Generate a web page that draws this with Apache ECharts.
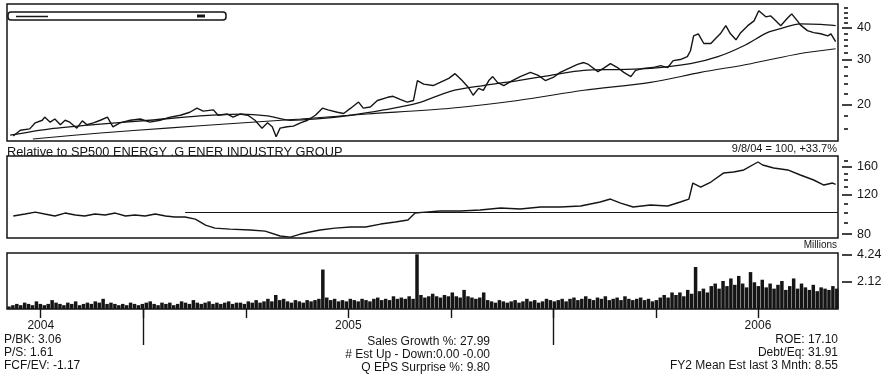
<!DOCTYPE html>
<html>
<head>
<meta charset="utf-8">
<script src="https://cdn.jsdelivr.net/npm/echarts@6/dist/echarts.min.js"></script>
<style>
  html, body { margin: 0; padding: 0; background: #fff; }
  #chart { width: 889px; height: 384px; }
</style>
</head>
<body>
<div id="chart"></div>
<script>
// Horizontal unit: weeks counted from the first week shown (early March 2004).
const weekMax = 105.9;
const quarterTicks = [4.3, 17.4, 30.5, 43.5, 56.6, 69.6, 82.7, 95.7];
const longTicks = [17.4, 69.6];
const yearTicks = [4.3, 43.5, 95.7];
const yearLabels = ['2004', '2005', '2006'];

// Daily price path, sampled [week, price]
const price = [
  [0.8,15.0],[1.7,15.8],[2.9,16.0],[3.6,16.9],[4.5,17.3],[4.8,17.8],[5.5,17.0],[6.1,17.5],
  [6.8,16.6],[7.4,17.3],[8.0,17.0],[8.9,16.1],[9.6,17.2],[10.2,16.6],[11.0,16.9],[11.9,17.3],
  [12.8,17.8],[13.5,16.3],[14.4,16.9],[15.7,17.3],[17.0,17.5],[18.2,17.0],[19.5,17.3],[20.8,17.8],
  [22.1,18.1],[23.3,18.6],[24.2,19.3],[25.0,18.8],[26.3,19.0],[26.9,18.1],[28.1,18.3],[28.8,17.8],
  [29.7,18.3],[30.7,18.1],[31.6,17.3],[32.5,16.1],[33.2,16.9],[33.8,16.3],[34.3,14.9],[34.8,16.1],
  [35.7,16.3],[36.5,16.4],[37.4,16.9],[38.3,17.3],[39.3,18.1],[40.2,19.3],[40.9,19.0],[42.1,18.6],
  [42.9,18.4],[43.8,19.3],[44.8,20.4],[45.4,19.3],[46.3,19.5],[47.2,20.7],[48.5,21.3],[49.2,21.5],
  [50.1,20.9],[51.0,20.4],[51.8,20.7],[52.3,24.8],[53.1,24.0],[54.3,23.7],[55.2,24.4],[56.3,25.3],
  [57.1,26.4],[58.0,24.8],[58.8,23.3],[59.4,21.7],[60.1,23.1],[60.7,22.7],[61.4,24.8],[61.9,25.7],
  [62.5,24.4],[63.3,23.7],[64.4,24.8],[65.4,25.7],[66.7,26.7],[67.7,26.0],[68.6,24.8],[69.6,25.5],
  [70.5,26.7],[71.6,27.7],[72.7,28.7],[73.5,29.2],[74.1,28.7],[75.3,26.9],[76.0,27.7],[76.9,28.9],
  [77.8,27.9],[78.6,26.7],[79.5,25.7],[80.1,27.2],[81.1,27.7],[82.3,27.9],[83.3,28.4],[84.2,27.9],
  [84.9,29.7],[85.8,30.0],[86.7,30.8],[87.1,32.5],[87.5,37.2],[88.1,37.9],[88.8,34.7],[89.7,34.7],
  [90.3,36.3],[90.9,37.9],[91.6,40.8],[92.2,37.9],[92.9,35.9],[93.5,38.3],[94.4,40.8],[95.2,42.6],
  [95.8,46.7],[96.7,44.2],[97.3,44.6],[98.0,42.6],[98.6,40.8],[99.5,43.8],[100.0,45.4],[100.8,42.3],
  [101.1,41.1],[102.0,39.0],[102.8,38.3],[103.7,37.9],[104.6,37.2],[105.0,37.9],[105.6,35.3]
];

// Shorter moving average
const maShort = [
  [0.4,15.1],[5.5,16.0],[11.9,16.7],[18.2,17.3],[24.6,18.0],[29.7,18.3],[33.2,18.0],[36.1,17.3],
  [39.5,17.5],[43.8,18.1],[48.0,19.0],[52.3,20.2],[56.5,22.5],[60.7,23.7],[65.1,24.8],[69.3,26.0],
  [73.5,27.2],[77.8,27.4],[82.0,27.7],[87.1,28.9],[90.6,30.8],[93.9,34.0],[96.9,38.3],[98.6,39.7],
  [101.1,41.5],[103.7,41.3],[105.6,40.8]
];

// Longer moving average
const maLong = [
  [3.3,14.6],[11.9,15.4],[20.4,16.1],[28.8,16.8],[37.4,17.5],[45.9,18.3],[56.5,19.3],[65.1,20.7],
  [73.5,22.7],[82.0,24.4],[88.4,26.7],[94.8,28.9],[101.1,31.7],[105.6,33.1]
];

// Relative strength vs. the energy industry group (9/8/04 = 100)
const relStrength = [
  [0.8,96.4],[2.3,98.4],[3.6,100.4],[4.8,98.4],[6.1,96.4],[7.4,99.4],[8.7,97.4],[9.9,96.4],
  [11.2,98.4],[12.5,97.4],[13.8,99.4],[15.1,96.4],[16.3,97.4],[17.6,96.4],[18.9,98.4],[20.2,96.4],
  [21.4,95.4],[22.7,95.4],[24.0,93.4],[25.3,87.8],[26.5,85.1],[28.4,84.2],[31.0,83.4],[32.9,82.5],
  [34.8,78.4],[36.1,77.5],[37.4,80.0],[38.6,81.7],[39.9,83.4],[41.8,85.1],[43.8,86.0],[45.7,86.0],
  [47.6,88.7],[49.5,90.6],[51.1,92.5],[52.0,99.4],[53.3,100.4],[55.2,101.5],[57.8,101.5],[60.3,102.6],
  [62.9,104.7],[65.4,103.6],[68.0,105.8],[70.5,105.8],[73.1,106.9],[75.6,111.4],[76.9,114.9],[78.2,110.2],
  [79.8,105.8],[82.0,108.0],[84.2,106.9],[85.8,111.4],[86.9,114.9],[87.4,135.6],[88.4,130.1],[89.7,137.0],
  [91.3,150.3],[92.6,151.9],[93.9,155.2],[95.7,168.5],[96.3,163.4],[97.7,158.4],[99.5,155.2],[101.1,147.3],
  [102.8,139.9],[104.1,132.8],[105.2,135.6],[105.6,133.7]
];
const rsBase = 100;
const rsBaseStart = 22.7;

// Volume in millions, one bar per half week
const volume = [
  0.2,0.3,0.4,0.3,0.5,0.4,0.3,0.6,0.4,0.3,
  0.4,0.7,0.5,0.4,0.3,0.5,0.4,0.6,0.3,0.4,
  0.5,0.4,0.6,0.5,0.8,0.4,0.5,0.4,0.3,0.4,
  0.3,0.5,0.4,0.3,0.4,0.5,0.6,0.4,0.3,0.5,
  0.4,0.5,0.3,0.4,0.6,0.5,0.4,0.7,0.5,0.4,
  0.5,0.6,0.4,0.5,0.4,0.5,0.6,0.4,0.5,0.5,
  0.4,0.6,0.5,0.7,0.5,0.6,0.8,0.6,1.1,0.7,
  0.8,0.6,0.5,0.7,0.6,0.5,0.7,0.6,0.7,0.8,
  3.1,0.9,0.7,0.8,0.6,0.7,0.6,0.8,0.7,0.6,
  0.8,0.7,0.6,0.8,0.9,0.7,0.8,0.7,1.0,0.8,
  0.9,0.8,1.0,0.8,4.3,1.1,0.9,1.0,1.2,1.0,
  0.9,1.1,1.0,1.3,1.0,0.9,1.5,1.0,0.9,0.8,
  0.9,1.3,0.7,0.6,0.5,0.7,0.6,0.5,0.6,0.7,
  0.5,0.6,0.8,0.6,0.7,0.5,0.6,0.8,0.7,0.6,
  0.7,0.8,0.6,0.8,0.9,0.7,0.8,1.0,0.8,0.7,
  0.9,0.8,1.0,0.7,0.8,0.9,0.7,1.0,0.8,0.7,
  0.8,0.9,0.7,0.8,0.6,0.7,0.9,1.1,0.9,1.3,
  1.1,1.3,1.0,1.5,1.2,3.3,1.4,1.6,1.3,1.8,
  2.0,1.6,2.2,1.8,2.4,1.9,2.6,2.0,1.7,2.9,
  2.1,1.8,2.3,1.7,2.0,1.6,1.9,2.2,1.5,1.8,
  2.4,1.6,2.0,1.7,1.5,1.9,1.4,1.7,1.6,1.5,1.8,1.6
];

// Right-hand scales
const priceMajor = [20, 30, 40];
const priceMinor = [16, 18, 22, 24, 26, 28, 32, 34, 36, 38, 42, 44, 46, 48];
const rsMajor = [80, 120, 160];
const rsMinor = [90, 100, 110, 130, 140, 150, 170];
const volMajor = [2.12, 4.24];

const statsLeft = ['P/BK: 3.06', 'P/S: 1.61', 'FCF/EV: -1.17'];
const statsMid = ['Sales Growth %: 27.99', '# Est Up - Down:0.00 -0.00', 'Q EPS Surprise %: 9.80'];
const statsRight = ['ROE: 17.10', 'Debt/Eq: 31.91', 'FY2 Mean Est last 3 Mnth: 8.55'];

const FONT = "'Liberation Sans', Arial, Helvetica, sans-serif";
const INK = '#151515';

const chart = echarts.init(document.getElementById('chart'), null, { renderer: 'canvas' });

const gridBase = { left: 7, right: 51, show: true, borderColor: INK, borderWidth: 1.5, backgroundColor: 'transparent' };

function hiddenX(gridIndex) {
  return { type: 'value', gridIndex, min: 0, max: weekMax, show: false, axisLine: { show: false, onZero: false } };
}

function rightAxis(gridIndex, type, min, max, ticks, tickLen, offset, withLabels, fmt) {
  return {
    type, gridIndex, position: 'right', min, max, offset,
    axisLine: { show: false, onZero: false },
    splitLine: { show: false },
    axisTick: { show: true, length: tickLen, customValues: ticks, lineStyle: { color: INK, width: 1.6 } },
    axisLabel: withLabels
      ? { show: true, customValues: ticks, margin: 15, color: INK, fontFamily: FONT, fontSize: 12.5, formatter: fmt }
      : { show: false }
  };
}

const textStyle = (extra) => Object.assign({ fill: INK, font: '12px ' + FONT }, extra);

const graphics = [
  // name box at the top-left of the price panel
  { type: 'rect', shape: { x: 8, y: 12, width: 218, height: 8, r: 3 }, style: { fill: 'none', stroke: INK, lineWidth: 1.5 } },
  { type: 'line', shape: { x1: 16, y1: 16.5, x2: 48, y2: 16.5 }, style: { stroke: INK, lineWidth: 1.5 } },
  { type: 'rect', shape: { x: 197, y: 14.5, width: 8, height: 3 }, style: { fill: INK } },
  { type: 'text', left: 7, top: 146, style: textStyle({ text: 'Relative to SP500 ENERGY .G ENER INDUSTRY GROUP', font: '12.8px ' + FONT }) },
  { type: 'text', right: 52, top: 143, style: textStyle({ text: '9/8/04 = 100, +33.7%', font: '11px ' + FONT }) },
  { type: 'text', right: 52, top: 240, style: textStyle({ text: 'Millions', font: '10px ' + FONT }) }
];
statsLeft.forEach((t, i) => graphics.push({ type: 'text', left: 4, top: 334 + i * 13, style: textStyle({ text: t }) }));
statsMid.forEach((t, i) => graphics.push({ type: 'text', right: 399, top: 336 + i * 13, style: textStyle({ text: t, textAlign: 'right' }) }));
statsRight.forEach((t, i) => graphics.push({ type: 'text', right: 51, top: 334 + i * 13, style: textStyle({ text: t, textAlign: 'right' }) }));

const option = {
  animation: false,
  backgroundColor: '#fff',
  grid: [
    Object.assign({ top: 4, height: 137 }, gridBase),
    Object.assign({ top: 156, height: 82 }, gridBase),
    Object.assign({ top: 253, height: 56 }, gridBase)
  ],
  xAxis: [
    hiddenX(0),
    hiddenX(1),
    {
      type: 'value', gridIndex: 2, position: 'bottom', min: 0, max: weekMax,
      axisLine: { show: false, onZero: false }, splitLine: { show: false },
      axisTick: { show: true, length: 9, customValues: quarterTicks, lineStyle: { color: INK, width: 1.4 } },
      axisLabel: {
        show: true, customValues: yearTicks, margin: 11, color: INK, fontFamily: FONT, fontSize: 12,
        formatter: (v) => {
          const i = yearTicks.findIndex((t) => Math.abs(t - v) < 0.01);
          return i >= 0 ? yearLabels[i] : '';
        }
      }
    },
    {
      type: 'value', gridIndex: 2, position: 'bottom', min: 0, max: weekMax,
      axisLine: { show: false, onZero: false }, splitLine: { show: false }, axisLabel: { show: false },
      axisTick: { show: true, length: 36, customValues: longTicks, lineStyle: { color: INK, width: 1.4 } }
    }
  ],
  yAxis: [
    rightAxis(0, 'log', 14.33, 49.66, priceMajor, 10, 4, true),
    rightAxis(0, 'log', 14.33, 49.66, priceMinor, 4, 6, false),
    rightAxis(1, 'log', 76.8, 179.3, rsMajor, 10, 4, true),
    rightAxis(1, 'log', 76.8, 179.3, rsMinor, 4, 6, false),
    rightAxis(2, 'value', 0, 4.4, volMajor, 10, 4, true, (v) => v.toFixed(2))
  ],
  series: [
    {
      type: 'line', xAxisIndex: 0, yAxisIndex: 0, data: maLong, showSymbol: false, smooth: 0.3,
      lineStyle: { color: INK, width: 1.1 }, silent: true
    },
    {
      type: 'line', xAxisIndex: 0, yAxisIndex: 0, data: maShort, showSymbol: false, smooth: 0.3,
      lineStyle: { color: INK, width: 1.3 }, silent: true
    },
    {
      type: 'line', xAxisIndex: 0, yAxisIndex: 0, data: price, showSymbol: false,
      lineStyle: { color: INK, width: 1.4 }, silent: true
    },
    {
      type: 'line', xAxisIndex: 1, yAxisIndex: 2, data: relStrength, showSymbol: false,
      lineStyle: { color: INK, width: 1.4 }, silent: true,
      markLine: {
        silent: true, symbol: 'none', label: { show: false },
        lineStyle: { color: INK, width: 1.1, type: 'solid' },
        data: [[{ coord: [rsBaseStart, rsBase] }, { coord: [weekMax, rsBase] }]]
      }
    },
    {
      type: 'bar', xAxisIndex: 2, yAxisIndex: 4, barWidth: 3.5, silent: true,
      itemStyle: { color: INK },
      data: volume.map((v, i) => [0.25 + 0.5 * i, v])
    }
  ],
  graphic: graphics
};

chart.setOption(option);
</script>
</body>
</html>
